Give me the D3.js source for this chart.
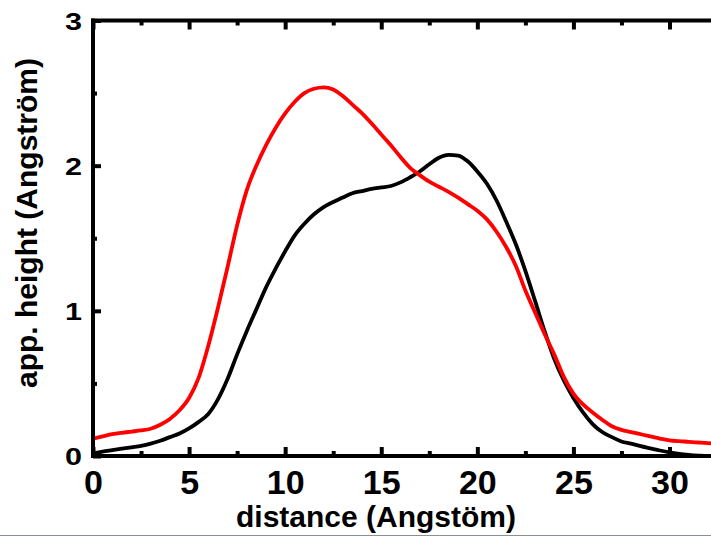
<!DOCTYPE html>
<html><head><meta charset="utf-8">
<script src="https://cdn.jsdelivr.net/npm/d3@7"></script>
<style>html,body{margin:0;padding:0;background:#fff;overflow:hidden}svg{display:block}</style>
</head><body>
<svg id="c" width="711" height="536"></svg>
<script>
const distance = [0,0.5,1,1.5,2,2.5,3,3.5,4,4.5,5,5.5,6,6.5,7,7.5,8,8.5,9,9.5,10,10.5,11,11.5,12,12.5,13,13.5,14,14.5,15,15.5,16,16.5,17,17.5,18,18.5,19,19.5,20,20.5,21,21.5,22,22.5,23,23.5,24,24.5,25,25.5,26,26.5,27,27.5,28,28.5,29,29.5,30,30.5,31,31.5,32,32.5];
const redHeight = [0.12,0.135,0.15,0.16,0.168,0.176,0.188,0.215,0.255,0.315,0.40,0.54,0.76,1.02,1.30,1.59,1.83,2.00,2.14,2.26,2.36,2.44,2.50,2.53,2.54,2.525,2.48,2.42,2.36,2.29,2.215,2.14,2.06,1.985,1.935,1.89,1.855,1.82,1.78,1.735,1.69,1.63,1.545,1.44,1.31,1.14,0.99,0.84,0.70,0.545,0.43,0.355,0.30,0.25,0.205,0.18,0.165,0.15,0.135,0.12,0.108,0.102,0.098,0.093,0.088,0.084];
const blackHeight = [0.018,0.03,0.04,0.05,0.06,0.07,0.085,0.105,0.13,0.155,0.19,0.235,0.29,0.39,0.53,0.70,0.86,1.01,1.16,1.29,1.41,1.52,1.60,1.665,1.715,1.75,1.78,1.81,1.825,1.84,1.85,1.86,1.885,1.92,1.96,2.01,2.055,2.075,2.07,2.03,1.96,1.875,1.76,1.615,1.46,1.275,1.07,0.86,0.67,0.52,0.40,0.30,0.22,0.165,0.13,0.10,0.085,0.068,0.053,0.038,0.025,0.015,0.008,0.003,0.0,0.0];
const xMajorTicks = [0,5,10,15,20,25,30];
const xMinorTicks = [2.5,7.5,12.5,17.5,22.5,27.5,32.5];
const yMajorTicks = [0,1,2,3];
const yMinorTicks = [0.5,1.5,2.5];

(function(){
const svg = d3.select("#c");
const x = d3.scaleLinear().domain([0,30]).range([93,669.5]);
const y = d3.scaleLinear().domain([0,3]).range([456,20.5]);
const font = "'Liberation Sans', Arial, sans-serif";

const curveLine = vals => d3.line().x((d,i)=>x(distance[i])).y(d=>y(d)).curve(d3.curveMonotoneX)(vals);

svg.append("clipPath").attr("id","pc").append("rect").attr("x",93).attr("y",0).attr("width",700).attr("height",456);
const g = svg.append("g").attr("clip-path","url(#pc)");
g.append("path").attr("d",curveLine(blackHeight)).attr("fill","none").attr("stroke","#000").attr("stroke-width",3.8).attr("stroke-linejoin","round");
g.append("path").attr("d",curveLine(redHeight)).attr("fill","none").attr("stroke","#ff0000").attr("stroke-width",3.8).attr("stroke-linejoin","round");

const xEnd = 720;
svg.append("line").attr("x1",91).attr("x2",xEnd).attr("y1",y(0)).attr("y2",y(0)).attr("stroke","#000").attr("stroke-width",4);
svg.append("line").attr("x1",91).attr("x2",xEnd).attr("y1",y(3)).attr("y2",y(3)).attr("stroke","#000").attr("stroke-width",4);
svg.append("line").attr("x1",x(0)).attr("x2",x(0)).attr("y1",y(3)-2).attr("y2",y(0)+2).attr("stroke","#000").attr("stroke-width",4);

const axB = d3.axisBottom(x).tickValues(xMajorTicks).tickSizeInner(-9).tickSizeOuter(0).tickFormat(d3.format("d"));
const bAx = svg.append("g").attr("transform",`translate(0,${y(0)})`).call(axB);
bAx.select(".domain").remove();
bAx.selectAll(".tick line").attr("stroke","#000").attr("stroke-width",4);
bAx.selectAll(".tick text").attr("font-family",font).attr("font-weight","bold").attr("font-size",34).attr("fill","#000").attr("dy","0.71em").attr("y",14);
const axBm = d3.axisBottom(x).tickValues(xMinorTicks).tickSizeInner(-5).tickSizeOuter(0).tickFormat("");
const bmAx = svg.append("g").attr("transform",`translate(0,${y(0)})`).call(axBm);
bmAx.select(".domain").remove();
bmAx.selectAll(".tick line").attr("stroke","#000").attr("stroke-width",4);

const axT = d3.axisTop(x).tickValues(xMajorTicks).tickSizeInner(-9).tickSizeOuter(0).tickFormat("");
const tAx = svg.append("g").attr("transform",`translate(0,${y(3)})`).call(axT);
tAx.select(".domain").remove();
tAx.selectAll(".tick line").attr("stroke","#000").attr("stroke-width",4);
const axTm = d3.axisTop(x).tickValues(xMinorTicks).tickSizeInner(-5).tickSizeOuter(0).tickFormat("");
const tmAx = svg.append("g").attr("transform",`translate(0,${y(3)})`).call(axTm);
tmAx.select(".domain").remove();
tmAx.selectAll(".tick line").attr("stroke","#000").attr("stroke-width",4);

const axL = d3.axisLeft(y).tickValues(yMajorTicks).tickSizeInner(-8).tickSizeOuter(0).tickFormat(d3.format("d"));
const lAx = svg.append("g").attr("transform",`translate(${x(0)},0)`).call(axL);
lAx.select(".domain").remove();
lAx.selectAll(".tick line").attr("stroke","#000").attr("stroke-width",4);
lAx.selectAll(".tick text").attr("font-family",font).attr("font-weight","bold").attr("font-size",24).attr("fill","#000")
  .attr("x",-11).attr("dy","0.36em").attr("textLength",17).attr("lengthAdjust","spacingAndGlyphs");
const axLm = d3.axisLeft(y).tickValues(yMinorTicks).tickSizeInner(-4).tickSizeOuter(0).tickFormat("");
const lmAx = svg.append("g").attr("transform",`translate(${x(0)},0)`).call(axLm);
lmAx.select(".domain").remove();
lmAx.selectAll(".tick line").attr("stroke","#000").attr("stroke-width",4);

svg.append("text").attr("x",376).attr("y",527).attr("text-anchor","middle").attr("font-family",font).attr("font-weight","bold").attr("font-size",30).text("distance (Angstöm)");
svg.append("text").attr("transform","translate(37,223) rotate(-90)").attr("text-anchor","middle").attr("font-family",font).attr("font-weight","bold").attr("font-size",30).text("app. height (Angström)");

svg.append("rect").attr("x",0).attr("y",535).attr("width",711).attr("height",1).attr("fill","#88909a");
})();
</script>
</body></html>
